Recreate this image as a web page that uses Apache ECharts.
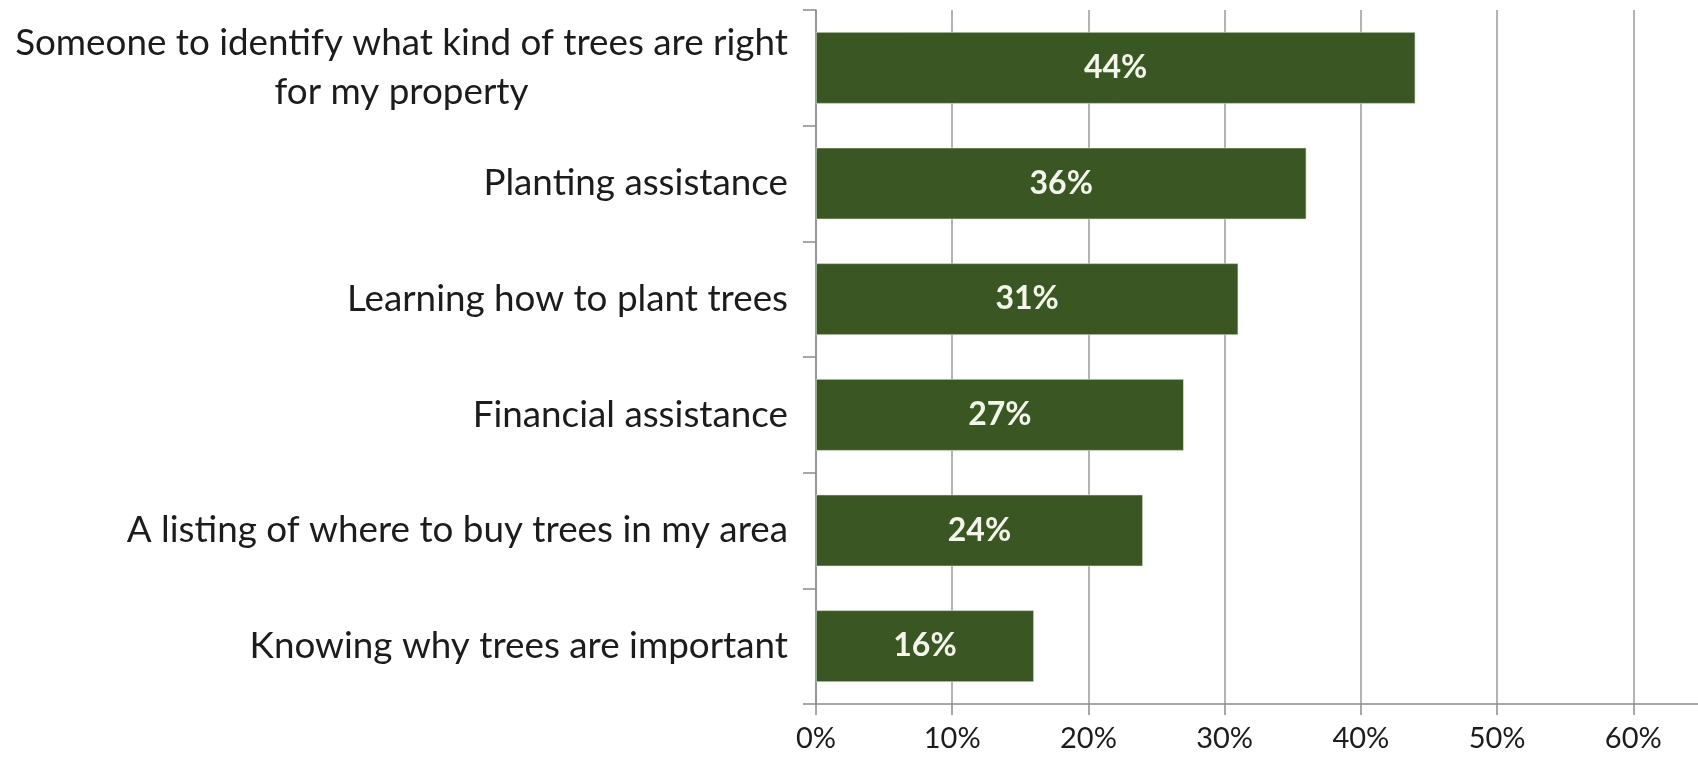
<!DOCTYPE html>
<html>
<head>
<meta charset="utf-8">
<script src="https://cdn.jsdelivr.net/npm/echarts@6/dist/echarts.min.js"></script>
<style>
  html, body { margin: 0; padding: 0; background: #ffffff; }
  #chart { width: 1698px; height: 758px; }
</style>
</head>
<body>
<div id="chart"></div>
<script>
// Survey items, top to bottom
const categories = [
  ['Someone to identify what kind of trees are right', 'for my property'],
  ['Planting assistance'],
  ['Learning how to plant trees'],
  ['Financial assistance'],
  ['A listing of where to buy trees in my area'],
  ['Knowing why trees are important']
];
// Share of respondents (%)
const shares = [44, 36, 31, 27, 24, 16];
// Value axis ticks (%)
const tickValues = [0, 10, 20, 30, 40, 50, 60, 70];

const FONT = 'Lato';
const LABEL_SIZE = 36.8;
const TICK_SIZE = 29;
const TEXT_COLOR = '#1c1c1c';

// Measure text so wrapped labels can centre their lines under the widest one
const ctx = document.createElement('canvas').getContext('2d');
ctx.font = LABEL_SIZE + 'px ' + FONT;
const measure = s => ctx.measureText(s).width;

const catKeys = categories.map(c => c.join('\n'));
const rich = {};
categories.forEach((lines, i) => {
  if (lines.length > 1) {
    const w = Math.ceil(Math.max(...lines.map(measure)));
    rich['l' + i] = { width: w, align: 'center', fontSize: LABEL_SIZE, fontFamily: FONT, color: TEXT_COLOR, lineHeight: 49 };
  }
});

const chart = echarts.init(document.getElementById('chart'), null, { renderer: 'canvas' });
chart.setOption({
  backgroundColor: '#ffffff',
  animation: false,
  grid: { left: 816, top: 10, width: 953.5, height: 694, containLabel: false, outerBoundsMode: 'none' },
  xAxis: {
    type: 'value',
    min: tickValues[0],
    max: tickValues[tickValues.length - 1],
    interval: 10,
    axisLine: { show: true, lineStyle: { color: '#8c8c8c', width: 1.5 } },
    axisTick: { show: true, length: 11, lineStyle: { color: '#8c8c8c', width: 1.5 } },
    splitLine: { show: true, lineStyle: { color: '#9a9a9a', width: 1.5 } },
    axisLabel: {
      formatter: v => v + '%',
      margin: 19,
      fontSize: TICK_SIZE,
      lineHeight: 32,
      fontFamily: FONT,
      color: TEXT_COLOR
    }
  },
  yAxis: {
    type: 'category',
    inverse: true,
    data: catKeys,
    axisLine: { show: true, lineStyle: { color: '#8c8c8c', width: 1.5 } },
    axisTick: { show: true, length: 13, alignWithLabel: false, lineStyle: { color: '#8c8c8c', width: 1.5 } },
    axisLabel: {
      margin: 28,
      fontSize: LABEL_SIZE,
      fontFamily: FONT,
      color: TEXT_COLOR,
      lineHeight: 49,
      rich: rich,
      formatter: (value, idx) => {
        const lines = categories[idx];
        if (lines.length > 1) return lines.map(s => '{l' + idx + '|' + s + '}').join('\n');
        return value;
      }
    }
  },
  series: [{
    type: 'bar',
    data: shares,
    barCategoryGap: '38%',
    itemStyle: { color: '#3a5723', borderColor: '#e6eedd', borderWidth: 0.6 },
    label: {
      show: true,
      position: 'inside',
      formatter: p => p.value + '%',
      fontSize: 32,
      fontWeight: 'bold',
      fontFamily: FONT,
      color: '#f4f6ec'
    }
  }]
});
</script>
</body>
</html>
